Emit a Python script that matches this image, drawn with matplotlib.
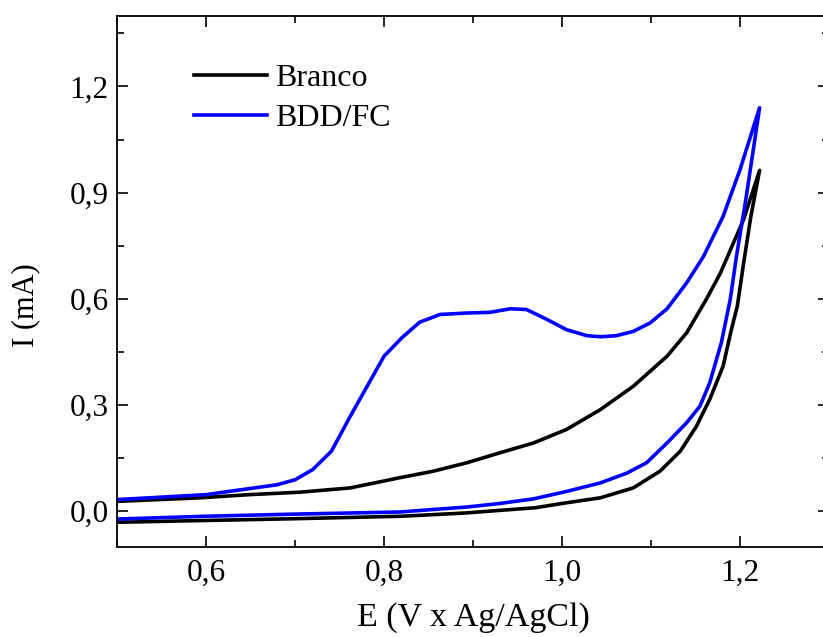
import matplotlib.pyplot as plt
from matplotlib.ticker import FuncFormatter, MultipleLocator

plt.rcParams['font.family'] = ['Liberation Serif', 'DejaVu Serif']

# Branco: forward scan (lower branch) up to the vertex, then back (upper branch)
branco_e = [0.50, 0.60, 0.70, 0.82, 0.89, 0.97, 1.005, 1.043, 1.08, 1.11, 1.133,
            1.151, 1.166, 1.181, 1.190, 1.197, 1.204, 1.212, 1.222,
            1.204, 1.178, 1.162, 1.140, 1.118, 1.080, 1.043, 1.005, 0.968, 0.930,
            0.893, 0.855, 0.818, 0.799, 0.762, 0.706, 0.649, 0.593, 0.50]
branco_i = [-0.031, -0.026, -0.021, -0.014, -0.005, 0.010, 0.024, 0.038, 0.066, 0.113, 0.170,
            0.240, 0.316, 0.410, 0.510, 0.580, 0.700, 0.830, 0.963,
            0.824, 0.673, 0.598, 0.504, 0.438, 0.353, 0.287, 0.231, 0.193, 0.165,
            0.137, 0.113, 0.095, 0.085, 0.066, 0.054, 0.047, 0.038, 0.028]

# BDD/FC
bdd_e = [0.50, 0.60, 0.70, 0.818, 0.855, 0.893, 0.930, 0.968, 1.005, 1.043, 1.073, 1.095,
         1.118, 1.140, 1.155, 1.166, 1.179, 1.189, 1.196, 1.2065, 1.222,
         1.200, 1.181, 1.159, 1.140, 1.118, 1.099, 1.080, 1.061, 1.043, 1.028, 1.005,
         0.983, 0.960, 0.942, 0.919, 0.893, 0.863, 0.840, 0.820, 0.800, 0.781, 0.762,
         0.741, 0.720, 0.700, 0.680, 0.60, 0.50]
bdd_i = [-0.022, -0.014, -0.008, -0.002, 0.005, 0.012, 0.022, 0.035, 0.056, 0.080, 0.108, 0.137,
         0.193, 0.250, 0.297, 0.363, 0.476, 0.598, 0.72, 0.880, 1.140,
         0.965, 0.833, 0.720, 0.645, 0.572, 0.532, 0.508, 0.496, 0.493, 0.496, 0.513,
         0.542, 0.570, 0.572, 0.562, 0.560, 0.556, 0.534, 0.490, 0.438, 0.353, 0.268,
         0.170, 0.118, 0.089, 0.075, 0.047, 0.033]

fig = plt.figure(figsize=(8.23, 6.37), dpi=100)
ax = fig.add_axes([0.1422, 0.1418, 0.8651, 0.8336])

ax.plot(branco_e, branco_i, color='black', lw=2.6, label='Branco', solid_joinstyle='round')
ax.plot(bdd_e, bdd_i, color='#0000ff', lw=2.6, label='BDD/FC', solid_joinstyle='round')

ax.set_xlim(0.5, 1.3)
ax.set_ylim(-0.1, 1.4)
ax.xaxis.set_major_locator(MultipleLocator(0.2))
ax.xaxis.set_minor_locator(MultipleLocator(0.1))
ax.yaxis.set_major_locator(MultipleLocator(0.3))
ax.yaxis.set_minor_locator(MultipleLocator(0.15))
comma = FuncFormatter(lambda v, p: f'{v:.1f}'.replace('.', ','))
ax.xaxis.set_major_formatter(comma)
ax.yaxis.set_major_formatter(comma)

ax.tick_params(which='both', direction='in', top=True, right=True, width=1.2)
ax.tick_params(which='major', length=8, labelsize=22.5)
ax.tick_params(which='minor', length=5)
ax.tick_params(axis='x', pad=9)
ax.tick_params(axis='y', pad=6)
for s in ax.spines.values():
    s.set_linewidth(1.3)

ax.set_xlabel('E (V x Ag/AgCl)', fontsize=24.5, labelpad=10)
ax.set_ylabel('I (mA)', fontsize=22)
ax.yaxis.set_label_coords(-0.108, 0.455)

ax.legend(loc='upper left', bbox_to_anchor=(0.108, 0.91), frameon=False, fontsize=23,
          handlelength=2.3, handletextpad=0.25, labelspacing=0.33,
          borderaxespad=0, borderpad=0)

fig.savefig('out.png', dpi=100)
